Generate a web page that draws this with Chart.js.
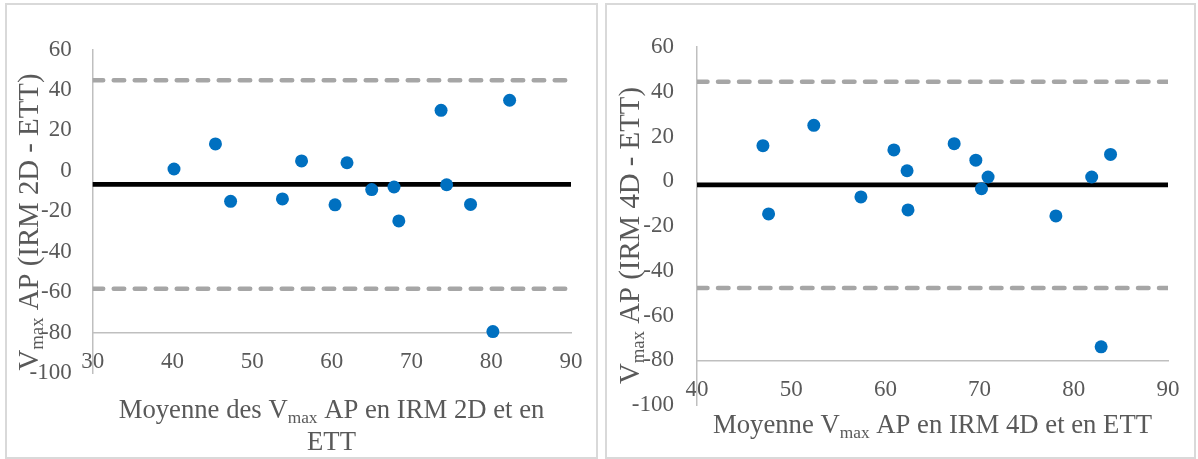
<!DOCTYPE html>
<html>
<head>
<meta charset="utf-8">
<script src="https://cdn.jsdelivr.net/npm/chart.js@4"></script>
<style>
  html, body { margin: 0; padding: 0; background: #ffffff; }
  body { width: 1198px; height: 459px; position: relative; overflow: hidden; }
  .panel { position: absolute; box-sizing: border-box; border: 2px solid #d9d9d9; background: #fff; }
  canvas { position: absolute; top: 0; }
</style>
</head>
<body>
<div class="panel" style="left:5px; top:3px; width:593px; height:456px;"></div>
<div class="panel" style="left:605px; top:3px; width:591px; height:456px;"></div>
<canvas id="c1" width="600" height="459" style="left:0px;"></canvas>
<canvas id="c2" width="598" height="459" style="left:600px;"></canvas>
<script>
// ---------- DATA ----------
// Left chart: IRM 2D vs ETT
const leftMeans = [40.2, 45.4, 47.3, 53.8, 56.2, 60.4, 61.9, 65.0, 67.8, 68.4, 73.7, 74.4, 77.4, 80.2, 82.3];
const leftDiffs = [0.9, 13.3, -15.1, -13.9, 4.9, -16.8, 4.0, -9.3, -8.0, -24.8, 29.9, -6.9, -16.6, -79.5, 34.9];
const leftBias = -6.7;
const leftUpper = 44.8;
const leftLower = -58.3;
const leftXTicks = [30, 40, 50, 60, 70, 80, 90];

// Right chart: IRM 4D vs ETT
const rightMeans = [47.0, 47.6, 52.4, 57.4, 60.9, 62.3, 62.4, 67.3, 69.6, 70.9, 70.2, 78.1, 81.9, 83.9, 82.9];
const rightDiffs = [15.9, -14.6, 25.0, -7.0, 14.0, 4.7, -12.8, 16.8, 9.4, 1.9, -3.3, -15.5, 1.9, 12.0, -74.0];
const rightBias = -1.6;
const rightUpper = 44.5;
const rightLower = -47.7;
const rightXTicks = [40, 50, 60, 70, 80, 90];

const yTicks = [-100, -80, -60, -40, -20, 0, 20, 40, 60];
const yAxisCross = -80;

// Titles (segments: sub = subscript)
const leftYTitle = [{t: 'V'}, {t: 'max', sub: true}, {t: ' AP (IRM 2D - ETT)'}];
const leftXTitle = [
  [{t: 'Moyenne des V'}, {t: 'max', sub: true}, {t: ' AP en IRM 2D et en'}],
  [{t: 'ETT'}]
];
const rightYTitle = [{t: 'V'}, {t: 'max', sub: true}, {t: ' AP (IRM 4D - ETT)'}];
const rightXTitle = [
  [{t: 'Moyenne V'}, {t: 'max', sub: true}, {t: ' AP en IRM 4D et en ETT'}]
];

// ---------- STYLE ----------
const FONT = "'Liberation Serif', 'Times New Roman', serif";
const TEXT = '#595959';
const AXIS = '#bfbfbf';
const BLUE = '#0070c0';

function richWidth(ctx, segs, size) {
  let w = 0;
  for (const s of segs) {
    ctx.font = (s.sub ? size * 0.65 : size) + 'px ' + FONT;
    w += ctx.measureText(s.t).width;
  }
  return w;
}
function drawRich(ctx, segs, size) {
  const total = richWidth(ctx, segs, size);
  let x = -total / 2;
  ctx.textAlign = 'left';
  ctx.textBaseline = 'alphabetic';
  for (const s of segs) {
    const fs = s.sub ? size * 0.65 : size;
    ctx.font = fs + 'px ' + FONT;
    ctx.fillText(s.t, x, s.sub ? size * 0.19 : 0);
    x += ctx.measureText(s.t).width;
  }
}

const richTitles = {
  id: 'richTitles',
  afterDraw(chart, args, opts) {
    const ctx = chart.ctx;
    ctx.save();
    ctx.fillStyle = TEXT;
    // y title (rotated)
    ctx.save();
    ctx.translate(opts.yX, opts.yY);
    ctx.rotate(-Math.PI / 2);
    drawRich(ctx, opts.yTitle, opts.ySize);
    ctx.restore();
    // x title lines
    opts.xTitle.forEach((line, i) => {
      ctx.save();
      ctx.translate(opts.xX, opts.xY + i * opts.lineH);
      drawRich(ctx, line, opts.xSize);
      ctx.restore();
    });
    ctx.restore();
  }
};

function makeChart(id, means, diffs, bias, upper, lower, xTicks, layout, titles) {
  const xmin = xTicks[0], xmax = xTicks[xTicks.length - 1];
  const pts = means.map((m, i) => ({x: m, y: diffs[i]}));
  const hline = v => [{x: xmin, y: v}, {x: xmax, y: v}];
  return new Chart(document.getElementById(id), {
    type: 'scatter',
    data: {
      datasets: [
        { data: pts, backgroundColor: BLUE, borderWidth: 0, pointRadius: 6.5, pointHoverRadius: 6.5 },
        { data: hline(bias), showLine: true, borderColor: '#000000', borderWidth: 4.7, pointRadius: 0, borderCapStyle: 'round' },
        { data: hline(upper), showLine: true, borderColor: '#a6a6a6', borderWidth: 4.5, pointRadius: 0, borderDash: [10.5, 10.5], borderCapStyle: 'round' },
        { data: hline(lower), showLine: true, borderColor: '#a6a6a6', borderWidth: 4.5, pointRadius: 0, borderDash: [10.5, 10.5], borderCapStyle: 'round' }
      ]
    },
    options: {
      responsive: false,
      animation: false,
      devicePixelRatio: 1,
      layout: { padding: layout.padding },
      plugins: {
        legend: { display: false },
        tooltip: { enabled: false },
        richTitles: titles
      },
      scales: {
        x: {
          type: 'linear',
          position: { y: yAxisCross },
          min: xmin, max: xmax,
          afterBuildTicks: s => { s.ticks = xTicks.map(v => ({value: v})); },
          grid: { display: true, drawOnChartArea: false, drawTicks: false, color: 'rgba(0,0,0,0)' },
          border: { display: true, color: AXIS, width: 1.5 },
          ticks: { color: TEXT, font: { family: FONT, size: 23 }, padding: layout.xPad, maxRotation: 0, autoSkip: false }
        },
        y: {
          type: 'linear',
          position: 'left',
          min: yTicks[0], max: yTicks[yTicks.length - 1],
          afterBuildTicks: s => { s.ticks = yTicks.map(v => ({value: v})); },
          afterFit: s => { s.width = layout.yWidth; },
          grid: { display: true, drawOnChartArea: false, drawTicks: false, color: 'rgba(0,0,0,0)' },
          border: { display: true, color: AXIS, width: 1.5 },
          ticks: { color: TEXT, font: { family: FONT, size: 23 }, padding: layout.yPad, autoSkip: false }
        }
      }
    },
    plugins: [richTitles]
  });
}

makeChart('c1', leftMeans, leftDiffs, leftBias, leftUpper, leftLower, leftXTicks,
  { padding: { left: 0, right: 29, top: 49.5, bottom: 86 }, yWidth: 92.7, xPad: 15.5, yPad: 21 },
  { yTitle: leftYTitle, xTitle: leftXTitle, xSize: 26.7, ySize: 28.8, yX: 37.5, yY: 222, xX: 331.5, xY: 418, lineH: 32 });

makeChart('c2', rightMeans, rightDiffs, rightBias, rightUpper, rightLower, rightXTicks,
  { padding: { left: 0, right: 30, top: 47, bottom: 54 }, yWidth: 97, xPad: 15.5, yPad: 23 },
  { yTitle: rightYTitle, xTitle: rightXTitle, xSize: 26.7, ySize: 28.8, yX: 38.5, yY: 235.5, xX: 332.5, xY: 432.7, lineH: 32 });
</script>
</body>
</html>
